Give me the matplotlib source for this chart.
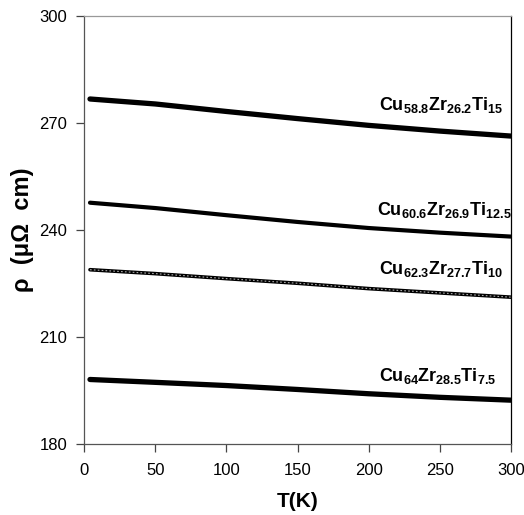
import matplotlib
matplotlib.use("Agg")
import matplotlib.pyplot as plt

plt.rcParams['font.family'] = ['Liberation Sans', 'DejaVu Sans']
plt.rcParams['mathtext.fontset'] = 'custom'
plt.rcParams['mathtext.rm'] = 'Liberation Sans:bold'
plt.rcParams['mathtext.bf'] = 'Liberation Sans:bold'
plt.rcParams['mathtext.it'] = 'Liberation Sans:bold'

T = [4, 50, 100, 150, 200, 250, 300]
rho_Ti15 = [276.8, 275.4, 273.3, 271.3, 269.4, 267.8, 266.4]
rho_Ti125 = [247.7, 246.2, 244.2, 242.3, 240.6, 239.3, 238.2]
rho_Ti10 = [228.9, 227.8, 226.4, 225.1, 223.6, 222.4, 221.2]
rho_Ti75 = [198.1, 197.3, 196.4, 195.3, 194.1, 193.1, 192.3]

labels = [r"Cu$_{58.8}$Zr$_{26.2}$Ti$_{15}$",
          r"Cu$_{60.6}$Zr$_{26.9}$Ti$_{12.5}$",
          r"Cu$_{62.3}$Zr$_{27.7}$Ti$_{10}$",
          r"Cu$_{64}$Zr$_{28.5}$Ti$_{7.5}$"]
label_T = [207, 206, 207, 207]
label_rho = [273.8, 244.2, 227.7, 197.8]

xticks = [0, 50, 100, 150, 200, 250, 300]
yticks = [180, 210, 240, 270, 300]

fig = plt.figure(figsize=(5.24, 5.15), dpi=100)
ax = fig.add_axes([84.3/524, (515-444)/515, (510.7-84.3)/524, (444-16.3)/515])

ax.plot(T, rho_Ti15, color='black', lw=3.8, solid_capstyle='round')
ax.plot(T, rho_Ti125, color='black', lw=3.0, solid_capstyle='round')
ax.plot(T, rho_Ti10, color='black', lw=2.6, solid_capstyle='round')
ax.plot(T, rho_Ti10, color='#aaaaaa', lw=0.8, ls=(0, (1.5, 2.0)))
ax.plot(T, rho_Ti75, color='black', lw=3.8, solid_capstyle='round')

for lab, x, y in zip(labels, label_T, label_rho):
    ax.text(x, y, lab, fontsize=13, fontweight='bold', ha='left', va='baseline')

ax.set_xlim(0, 300)
ax.set_ylim(180, 300)
ax.set_xticks(xticks)
ax.set_yticks(yticks)
ax.tick_params(direction='out', length=5.8, width=0.9, labelsize=12, color='#444444')
ax.tick_params(axis='x', pad=8)
ax.tick_params(axis='y', pad=6.5)
for s in ['left', 'bottom']:
    ax.spines[s].set_color('#555555')
ax.spines['top'].set_color('#999999')
ax.spines['right'].set_color('black')
for s in ax.spines.values():
    s.set_linewidth(0.9)

ax.set_xlabel('T(K)', fontsize=15, fontweight='bold', labelpad=10)
ax.set_ylabel('ρ  (μΩ  cm)', fontsize=17, fontweight='bold', labelpad=4)

fig.savefig('out.png', dpi=100)
